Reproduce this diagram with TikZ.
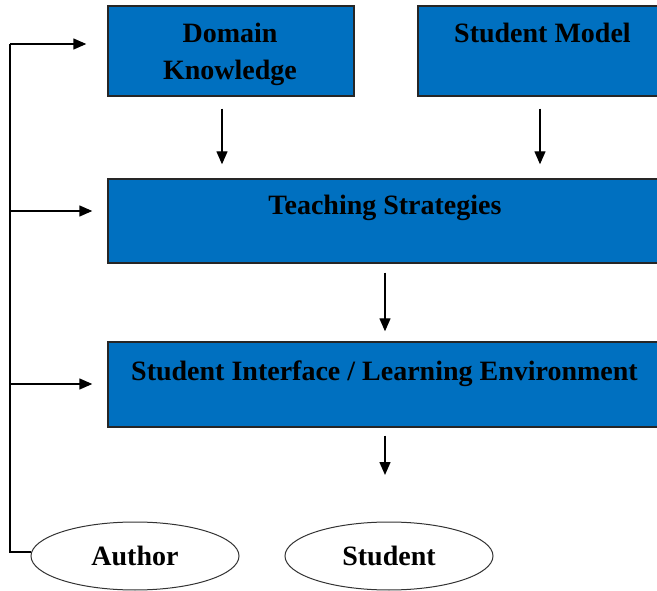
\documentclass[tikz,border=0pt]{standalone}
\usepackage{fontspec}
\setmainfont{Liberation Serif}
\usepackage{tikz}
\usetikzlibrary{shapes.geometric, arrows.meta, positioning, calc}
\definecolor{boxblue}{RGB}{0,112,192}
\tikzstyle{arrow} = [line width=1.4pt, -{Triangle[length=13pt,width=11pt]}]
\tikzstyle{link} = [line width=1.4pt]

\begin{document}
\begin{tikzpicture}[x=1pt, y=-1pt,
    bluebox/.style={rectangle, draw=black!85, line width=1.4pt, fill=boxblue, inner sep=0pt},
    boxtext/.style={font=\fontsize{28}{37}\selectfont\bfseries, align=center, inner sep=0pt, anchor=base},
    actor/.style={ellipse, draw=black!80, line width=1pt, fill=white, minimum width=208pt, minimum height=68pt, inner sep=0pt, font=\fontsize{28}{35}\selectfont\bfseries}
  ]
    \useasboundingbox (0,0) rectangle (657,591);

    % Top row
    \node[bluebox, minimum width=246pt, minimum height=90pt] (dom) at (231,51) {};
    \node[bluebox, minimum width=247pt, minimum height=90pt] (smod) at (541.5,51) {};
    \node[boxtext] (domtxt) at (230,80) {Domain\\Knowledge};
    \node[boxtext] (smodtxt) at (542.5,43) {Student Model};

    % Middle rows
    \node[bluebox, minimum width=557pt, minimum height=84pt] (teach) at (386.5,221) {};
    \node[boxtext] (teachtxt) at (385,215) {Teaching Strategies};
    \node[bluebox, minimum width=557pt, minimum height=85pt] (sif) at (386.5,384.5) {};
    \node[boxtext] (siftxt) at (384.5,381) {Student Interface / Learning Environment};

    % Users
    \node[actor] (author) at (135,556) {Author};
    \node[actor, right=45pt of author] (student) {Student};

    % Arrows between layers
    \draw[arrow, shorten <=12pt, shorten >=14pt] ([xshift=-9pt]dom.south) -- ([xshift=-9pt]dom.south |- teach.north);
    \draw[arrow, shorten <=12pt, shorten >=14pt] ([xshift=-1.5pt]smod.south) -- ([xshift=-1.5pt]smod.south |- teach.north);
    \draw[arrow, shorten <=9pt, shorten >=10pt] ([xshift=-1.5pt]teach.south) -- ([xshift=-1.5pt]teach.south |- sif.north);
    \coordinate (sifout) at (385,475);
    \draw[arrow, shorten <=8pt] ([xshift=-1.5pt]sif.south) -- (sifout);

    % Author feedback line
    \coordinate (trunk) at (10,552);
    \coordinate (jdom) at (10,44);
    \coordinate (jteach) at (10,211);
    \coordinate (jsif) at (10,384);
    \draw[link] (author.west |- trunk) -- (trunk) -- (jdom);
    \draw[arrow, shorten >=21pt] (jdom) -- (jdom -| dom.west);
    \draw[arrow, shorten >=15pt] (jteach) -- (jteach -| teach.west);
    \draw[arrow, shorten >=15pt] (jsif) -- (jsif -| sif.west);
  \end{tikzpicture}
\end{document}
